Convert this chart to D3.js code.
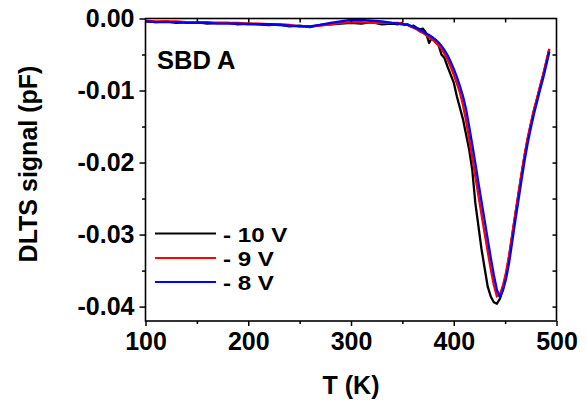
<!DOCTYPE html>
<html>
<head>
<meta charset="utf-8">
<script src="https://cdn.jsdelivr.net/npm/d3@7"></script>
<style>
  html, body { margin: 0; padding: 0; background: #fff; }
  svg { display: block; font-family: "Liberation Sans", Arial, sans-serif; font-weight: bold; }
</style>
</head>
<body>
<svg id="chart" width="586" height="403"></svg>
<script>
// ---- data ----
const temps = [100,110,120,130,140,150,160,170,180,190,200,210,220,230,240,250,260,270,280,290,300,310,320,330,340,
  346,349,352,355,358,361,364,367,370,373,376,379,382,385,388,391,394,397,400,403,406,409,412,415,418,421,424,427,430,433,436,439,442,445,448,451,454,457,460,463,466,469,472,475,478,481,484,487,490,493];

const black = [-0.0004,-0.0005,-0.0004,-0.0006,-0.0005,-0.0005,-0.0007,-0.0006,-0.0006,-0.0008,-0.0007,-0.0008,-0.0009,-0.0008,-0.0011,-0.0010,-0.0012,-0.0009,-0.0008,-0.0007,-0.0006,-0.0007,-0.0005,-0.0008,-0.0007,
  -0.0008,-0.0006,-0.0009,-0.0008,-0.0011,-0.0010,-0.0013,-0.0015,-0.0014,-0.0020,-0.0034,-0.0026,-0.0032,-0.0036,-0.0050,-0.0055,-0.0067,-0.0078,-0.0089,-0.0108,-0.0124,-0.0140,-0.0161,-0.0182,-0.0210,-0.0256,-0.0288,-0.0320,-0.0346,-0.0372,-0.0386,-0.0394,-0.0396,-0.0389,-0.0374,-0.0355,-0.0330,-0.0301,-0.0272,-0.0244,-0.0216,-0.0190,-0.0167,-0.0147,-0.0128,-0.0112,-0.0095,-0.0079,-0.0061,-0.0043];

const red = [-0.0003,-0.0004,-0.0004,-0.0004,-0.0005,-0.0005,-0.0005,-0.0006,-0.0006,-0.0006,-0.0007,-0.0007,-0.0008,-0.0008,-0.0009,-0.0011,-0.0011,-0.0010,-0.0008,-0.0006,-0.0005,-0.0005,-0.0006,-0.0006,-0.0006,
  -0.0006,-0.0007,-0.0008,-0.0009,-0.0011,-0.0013,-0.0015,-0.0018,-0.0020,-0.0023,-0.0026,-0.0029,-0.0033,-0.0037,-0.0042,-0.0049,-0.0057,-0.0067,-0.0078,-0.0090,-0.0103,-0.0120,-0.0142,-0.0167,-0.0193,-0.0219,-0.0246,-0.0272,-0.0298,-0.0323,-0.0348,-0.0370,-0.0386,-0.0383,-0.0370,-0.0352,-0.0328,-0.0299,-0.0271,-0.0243,-0.0215,-0.0189,-0.0166,-0.0146,-0.0127,-0.0111,-0.0094,-0.0078,-0.0060,-0.0042];

const blue = [-0.0004,-0.0005,-0.0005,-0.0005,-0.0006,-0.0006,-0.0006,-0.0007,-0.0007,-0.0007,-0.0008,-0.0008,-0.0008,-0.0009,-0.0010,-0.0011,-0.0011,-0.0009,-0.0006,-0.0004,-0.0002,-0.0002,-0.0003,-0.0004,-0.0006,
  -0.0007,-0.0008,-0.0008,-0.0009,-0.0010,-0.0012,-0.0014,-0.0016,-0.0018,-0.0021,-0.0023,-0.0026,-0.0029,-0.0033,-0.0038,-0.0044,-0.0051,-0.0060,-0.0070,-0.0081,-0.0094,-0.0108,-0.0126,-0.0150,-0.0175,-0.0201,-0.0228,-0.0254,-0.0280,-0.0306,-0.0332,-0.0356,-0.0377,-0.0387,-0.0377,-0.0361,-0.0338,-0.0309,-0.0280,-0.0252,-0.0224,-0.0197,-0.0173,-0.0152,-0.0133,-0.0116,-0.0099,-0.0083,-0.0065,-0.0046];

const seriesNames = ["- 10 V", "- 9 V", "- 8 V"];
const seriesColors = ["#000000", "#ff0000", "#0000ff"];
const xTicks = [100, 200, 300, 400, 500];
const yTicks = [0, -0.01, -0.02, -0.03, -0.04];
const yTickLabels = ["0.00", "-0.01", "-0.02", "-0.03", "-0.04"];
const xTitle = "T (K)";
const yTitle = "DLTS signal (pF)";
const annotation = "SBD A";

// ---- layout ----
const svg = d3.select("#chart");
const L = 145.5, R = 556.5, T = 18.5, B = 321;
const x = d3.scaleLinear().domain([100, 500]).range([L, R]);
const y = d3.scaleLinear().domain([-0.042, 0]).range([B, T]);

const series = [black, red, blue];

svg.append("clipPath").attr("id", "clip").append("rect")
  .attr("x", L).attr("y", T - 3).attr("width", R - L).attr("height", B - T + 3);

const line = d3.line().x((d, i) => x(temps[i])).y(d => y(d));
const g = svg.append("g").attr("clip-path", "url(#clip)");
series.forEach((s, k) => {
  g.append("path").datum(s)
    .attr("fill", "none").attr("stroke", seriesColors[k])
    .attr("stroke-width", 2.3).attr("stroke-linejoin", "round")
    .attr("d", line);
});

// frame
svg.append("rect").attr("x", L).attr("y", T).attr("width", R - L).attr("height", B - T)
  .attr("fill", "none").attr("stroke", "#000").attr("stroke-width", 1.6);

const fontSize = 25;
svg.append("g").attr("transform", `translate(0,${B})`)
  .call(d3.axisBottom(x).tickValues(xTicks).tickSize(5).tickPadding(6).tickFormat(d3.format("d")));
svg.append("g").attr("transform", `translate(0,${B})`)
  .call(d3.axisBottom(x).tickValues([150, 250, 350, 450]).tickSize(3).tickFormat(""));
svg.append("g").attr("transform", `translate(0,${T})`)
  .call(d3.axisBottom(x).tickValues([150, 200, 250, 300, 350, 400, 450]).tickSize(4).tickFormat(""));
svg.append("g").attr("transform", `translate(${L},0)`)
  .call(d3.axisLeft(y).tickValues(yTicks).tickSize(6).tickPadding(5).tickFormat((d, i) => yTickLabels[i]));
svg.append("g").attr("transform", `translate(${L},0)`)
  .call(d3.axisLeft(y).tickValues([-0.005, -0.015, -0.025, -0.035]).tickSize(3.5).tickFormat(""));
svg.append("g").attr("transform", `translate(${R},0)`)
  .call(d3.axisLeft(y).tickValues([-0.005, -0.01, -0.015, -0.02, -0.025, -0.03, -0.035, -0.04]).tickSize(4).tickFormat(""));

svg.selectAll(".domain").remove();
svg.selectAll(".tick line").attr("stroke", "#000").attr("stroke-width", 1.5);
svg.selectAll(".tick text").attr("fill", "#000")
  .style("font-size", fontSize + "px").style("font-weight", "bold")
  .style("font-family", "'Liberation Sans', Arial, sans-serif");

// titles
svg.append("text").attr("x", (L + R) / 2).attr("y", 394)
  .attr("text-anchor", "middle").style("font-size", "25px").text(xTitle);
svg.append("text").attr("transform", `translate(36.5,164) rotate(-90)`)
  .attr("text-anchor", "middle").style("font-size", "25px").text(yTitle);

// annotation
svg.append("text").attr("x", 157).attr("y", 68.5).style("font-size", "25.5px").text(annotation);

// legend
series.forEach((s, k) => {
  const ly = [233.5, 258, 282][k];
  svg.append("line").attr("x1", 155).attr("x2", 216).attr("y1", ly).attr("y2", ly)
    .attr("stroke", seriesColors[k]).attr("stroke-width", 2);
  svg.append("text").attr("transform", `translate(223,${ly + 8}) scale(1.15,1)`)
    .style("font-size", "21px").text(seriesNames[k]);
});
</script>
</body>
</html>
